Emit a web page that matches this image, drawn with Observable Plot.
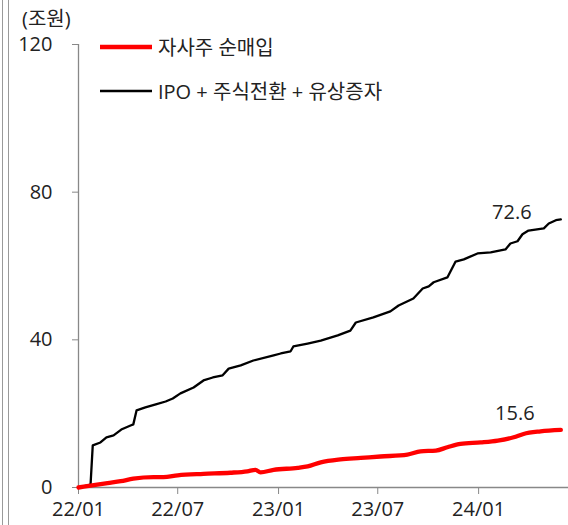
<!DOCTYPE html>
<html>
<head>
<meta charset="utf-8">
<script src="https://cdn.jsdelivr.net/npm/d3@7"></script>
<script src="https://cdn.jsdelivr.net/npm/@observablehq/plot@0.6"></script>
<style>
  body { margin: 0; background: #fff; }
  #wrap { position: relative; width: 568px; height: 525px; font-family: "Open Sans", "Noto Sans CJK KR", sans-serif; color: #222; }
  .frame { position: absolute; top: 0; bottom: 0; width: 1px; background: #9a9a9a; }
  .unit { position: absolute; left: 22px; top: 9px; font-size: 20px; line-height: 1; }
  .leg { position: absolute; left: 100px; display: flex; align-items: center; font-size: 20px; }
  .leg .sw { width: 52px; margin-right: 6px; }
</style>
</head>
<body>
<div id="wrap">
  <div class="frame" style="left:2px"></div>
  <div class="frame" style="left:8px"></div>
  <div class="unit">(조원)</div>
  <div id="chart"></div>
</div>
<script>
const seriesNames = ["자사주 순매입", "IPO + 주식전환 + 유상증자"];
const seriesColors = ["#ff0000", "#000000"];

const blackDates = ["2022-01-01","2022-01-23","2022-01-27","2022-02-10","2022-02-21","2022-03-06","2022-03-20","2022-04-06","2022-04-11","2022-04-17","2022-05-03","2022-05-22","2022-06-09","2022-06-22","2022-07-06","2022-07-30","2022-08-17","2022-09-03","2022-09-21","2022-10-02","2022-10-24","2022-11-16","2022-12-23","2023-01-05","2023-01-23","2023-01-28","2023-02-23","2023-03-19","2023-04-19","2023-05-12","2023-05-22","2023-06-23","2023-07-24","2023-08-08","2023-09-04","2023-09-21","2023-10-02","2023-10-11","2023-11-05","2023-11-20","2023-12-05","2023-12-30","2024-01-23","2024-02-19","2024-02-28","2024-03-12","2024-03-21","2024-04-01","2024-04-29","2024-05-08","2024-05-21","2024-05-30"];
const blackValues = [0,0.8,11.4,12.2,13.6,14.1,15.7,16.8,17.1,20.9,21.7,22.5,23.3,24.1,25.5,27.1,29.0,29.8,30.4,32.2,33.1,34.4,35.8,36.3,36.9,38.2,39.0,39.8,41.2,42.5,44.7,46.1,47.7,49.3,51.2,53.9,54.5,55.6,56.9,61.2,61.8,63.4,63.7,64.5,66.1,66.7,68.6,69.6,70.2,71.5,72.4,72.6];

const redDates = ["2022-01-01","2022-01-23","2022-02-23","2022-03-19","2022-04-11","2022-05-18","2022-06-05","2022-07-01","2022-08-17","2022-10-05","2022-11-05","2022-11-20","2022-11-29","2022-12-23","2023-02-05","2023-02-23","2023-03-19","2023-04-24","2023-05-31","2023-07-06","2023-08-24","2023-09-17","2023-10-15","2023-11-05","2023-11-29","2024-01-05","2024-02-05","2024-03-05","2024-03-23","2024-04-23","2024-05-30"];
const redValues = [0,0.5,1.2,1.7,2.4,2.8,2.8,3.3,3.7,4.0,4.4,4.8,4.1,4.8,5.3,5.7,6.8,7.6,8.0,8.4,8.9,9.8,10.0,10.9,11.8,12.2,12.7,13.6,14.5,15.2,15.6];

const xTickDates = ["2022-01-01","2022-07-01","2023-01-01","2023-07-01","2024-01-01"];
const yTicks = [0, 40, 80, 120];
const xDomain = ["2022-01-01", "2024-06-13"];

const black = blackDates.map((d, i) => ({date: new Date(d), value: blackValues[i]}));
const red = redDates.map((d, i) => ({date: new Date(d), value: redValues[i]}));
const endLabels = [
  {...black[black.length - 1], label: blackValues[blackValues.length - 1].toFixed(1)},
  {...red[red.length - 1], label: redValues[redValues.length - 1].toFixed(1)}
];

const chart = Plot.plot({
  width: 568,
  height: 525,
  marginLeft: 78,
  marginRight: 0,
  marginTop: 44,
  marginBottom: 38,
  style: {fontFamily: '"Open Sans", "Noto Sans CJK KR", sans-serif', color: "#222", background: "transparent"},
  x: {type: "utc", domain: xDomain.map(d => new Date(d))},
  y: {domain: [0, 120]},
  marks: [
    Plot.axisY({ticks: yTicks, tickSize: 6, tickPadding: 20, fontSize: 20, stroke: "#888", label: null}),
    Plot.axisX({ticks: xTickDates.map(d => new Date(d)), tickFormat: d3.utcFormat("%y/%m"), tickSize: 7, tickPadding: 7, fontSize: 20, stroke: "#888", label: null}),
    Plot.ruleX([new Date(xDomain[0])], {stroke: "#888", strokeWidth: 1.3}),
    Plot.ruleY([0], {stroke: "#888", strokeWidth: 1.3}),
    Plot.line(black, {x: "date", y: "value", stroke: seriesColors[1], strokeWidth: 2.3}),
    Plot.line(red, {x: "date", y: "value", stroke: seriesColors[0], strokeWidth: 4.3, curve: "monotone-x"}),
    Plot.text([endLabels[0]], {x: "date", y: "value", text: "label", dx: -49, dy: -7, fontSize: 20, fill: "#222"}),
    Plot.text([endLabels[1]], {x: "date", y: "value", text: "label", dx: -46, dy: -16, fontSize: 20, fill: "#222"})
  ]
});
document.getElementById("chart").appendChild(chart);

const wrap = document.getElementById("wrap");
const legendTops = [46, 90];
[0, 1].forEach(i => {
  const row = document.createElement("div");
  row.className = "leg";
  row.style.top = (legendTops[i] - 14) + "px";
  row.innerHTML = `<svg class="sw" width="52" height="28"><line x1="0" x2="52" y1="14" y2="14" stroke="${seriesColors[i]}" stroke-width="${i === 0 ? 4.5 : 2.3}"/></svg><span>${seriesNames[i]}</span>`;
  wrap.appendChild(row);
});
</script>
</body>
</html>
